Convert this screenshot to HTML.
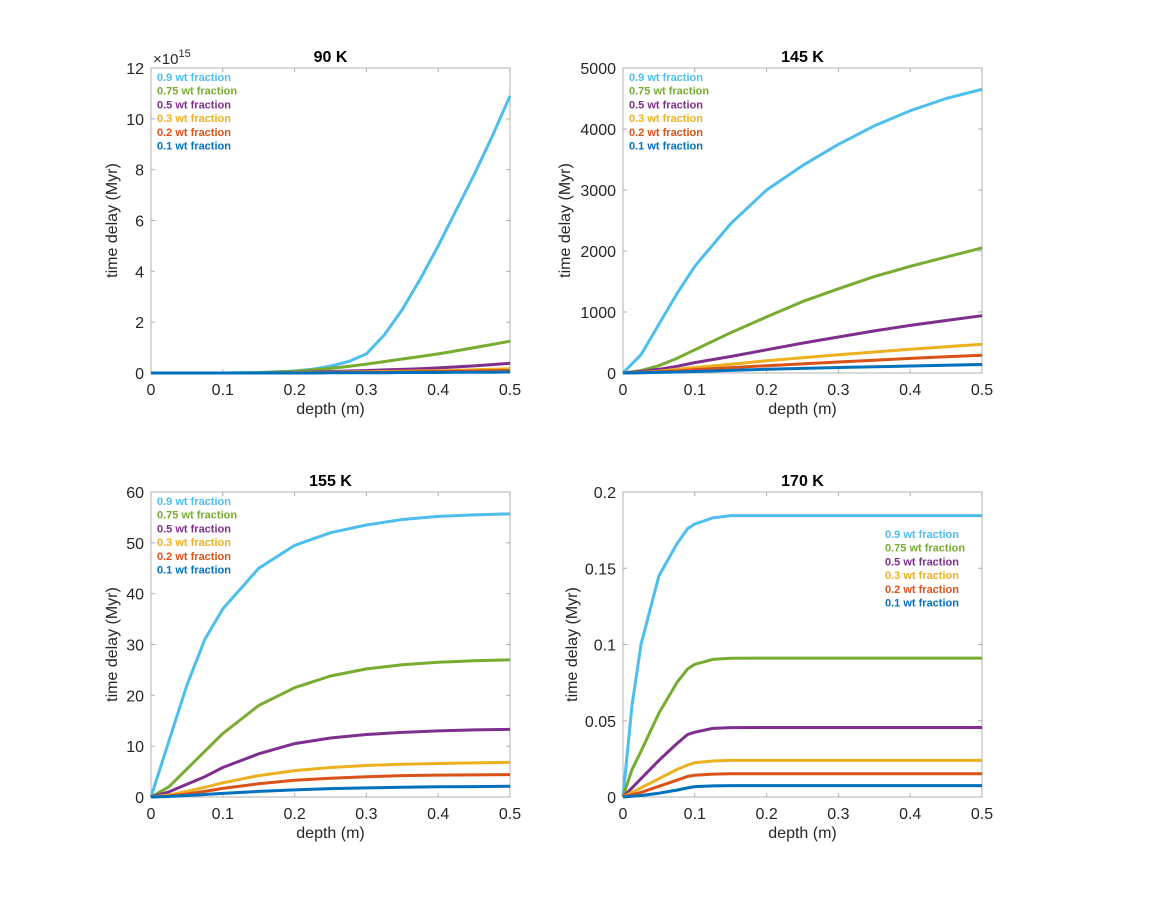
<!DOCTYPE html>
<html><head><meta charset="utf-8"><style>
body{margin:0;background:#fff;}
svg text{font-family:"Liberation Sans",Arial,sans-serif;}
</style></head><body>
<svg id="fig" width="1153" height="898" viewBox="0 0 1153 898" xmlns="http://www.w3.org/2000/svg"></svg>
<script>
const seriesLabels = ["0.9 wt fraction","0.75 wt fraction","0.5 wt fraction","0.3 wt fraction","0.2 wt fraction","0.1 wt fraction"];
const seriesColors = ["#4DBEEE","#77AC30","#7E2F8E","#EDB120","#D95319","#0072BD"];
const xTicks = [0,0.1,0.2,0.3,0.4,0.5];

// 90 K (values in units of 1e15)
const x90 = [0,0.05,0.1,0.15,0.2,0.225,0.25,0.275,0.3,0.325,0.35,0.375,0.4,0.425,0.45,0.475,0.5];
const y90_09 = [0,0,0,0.02,0.08,0.15,0.27,0.45,0.75,1.5,2.5,3.7,5.0,6.4,7.8,9.3,10.9];
const y90_075 = [0,0,0,0.01,0.07,0.12,0.18,0.26,0.35,0.45,0.55,0.65,0.75,0.87,1.0,1.12,1.25];
const y90_05 = [0,0,0,0,0.02,0.04,0.06,0.08,0.1,0.12,0.14,0.17,0.2,0.24,0.28,0.33,0.38];
const y90_03 = [0,0,0,0,0.01,0.02,0.03,0.04,0.05,0.06,0.07,0.08,0.09,0.11,0.13,0.15,0.17];
const y90_02 = [0,0,0,0,0,0.01,0.02,0.02,0.03,0.03,0.04,0.05,0.06,0.07,0.08,0.09,0.1];
const y90_01 = [0,0,0,0,0,0,0.01,0.01,0.01,0.01,0.02,0.02,0.02,0.03,0.03,0.03,0.04];
const yTicks90 = [0,2,4,6,8,10,12];

// 145 K
const x145 = [0,0.025,0.05,0.075,0.1,0.15,0.2,0.25,0.3,0.35,0.4,0.45,0.5];
const y145_09 = [0,300,800,1300,1750,2450,3000,3400,3750,4050,4300,4500,4650];
const y145_075 = [0,40,120,240,380,660,920,1170,1380,1580,1750,1900,2050];
const y145_05 = [0,25,60,110,170,270,380,490,590,690,780,860,940];
const y145_03 = [0,10,30,60,90,145,200,250,300,345,390,430,470];
const y145_02 = [0,6,20,35,55,88,120,150,180,210,240,265,290];
const y145_01 = [0,3,10,17,25,42,60,75,90,102,115,128,140];
const yTicks145 = [0,1000,2000,3000,4000,5000];

// 155 K
const x155 = [0,0.025,0.05,0.075,0.1,0.15,0.2,0.25,0.3,0.35,0.4,0.45,0.5];
const y155_09 = [0,11,22,31,37,45,49.5,52,53.5,54.6,55.2,55.5,55.7];
const y155_075 = [0,2,5.5,9,12.5,18,21.5,23.8,25.2,26,26.5,26.8,27];
const y155_05 = [0,1,2.5,4,5.8,8.5,10.5,11.6,12.3,12.7,13,13.2,13.3];
const y155_03 = [0,0.4,1.1,1.9,2.8,4.2,5.2,5.8,6.2,6.45,6.6,6.7,6.8];
const y155_02 = [0,0.2,0.6,1.1,1.7,2.6,3.3,3.7,4.0,4.2,4.3,4.35,4.4];
const y155_01 = [0,0.1,0.3,0.5,0.7,1.1,1.4,1.65,1.8,1.9,2.0,2.05,2.1];
const yTicks155 = [0,10,20,30,40,50,60];

// 170 K
const x170 = [0,0.0125,0.025,0.05,0.075,0.09,0.1,0.125,0.15,0.2,0.3,0.4,0.5];
const y170_09 = [0,0.06,0.1,0.145,0.166,0.176,0.179,0.183,0.1845,0.1845,0.1845,0.1845,0.1845];
const y170_075 = [0,0.018,0.03,0.055,0.075,0.084,0.087,0.0902,0.091,0.0911,0.0911,0.0911,0.0911];
const y170_05 = [0,0.006,0.012,0.024,0.035,0.041,0.0425,0.045,0.0455,0.0456,0.0456,0.0456,0.0456];
const y170_03 = [0,0.003,0.006,0.012,0.018,0.021,0.0225,0.0236,0.024,0.024,0.024,0.024,0.024];
const y170_02 = [0,0.0015,0.003,0.007,0.011,0.0135,0.0143,0.015,0.0152,0.0152,0.0152,0.0152,0.0152];
const y170_01 = [0,0.0005,0.001,0.0025,0.0045,0.006,0.0068,0.0073,0.0075,0.0075,0.0075,0.0075,0.0075];
const yTicks170 = [0,0.05,0.1,0.15,0.2];

const NS="http://www.w3.org/2000/svg";
const svg=document.getElementById('fig');
function mk(tag,attrs,parent){const e=document.createElementNS(NS,tag);for(const k in attrs)e.setAttribute(k,attrs[k]);(parent||svg).appendChild(e);return e;}

function panel(o){
  const g=mk('g',{});
  
  
  const L=o.left,R=o.left+359,T=o.top,B=o.top+305;
  const xs=v=>L+(v-0)/(0.5)*(R-L);
  const ys=v=>B-(v-o.ymin)/(o.ymax-o.ymin)*(B-T);
  const box=mk('rect',{x:L,y:T,width:R-L,height:B-T,fill:'#fff',stroke:'#b0b0b0','stroke-width':1},g);
  
  
  xTicks.forEach(t=>{
    const x=xs(t);
    mk('line',{x1:x,y1:B,x2:x,y2:B-4,stroke:'#b0b0b0'},g);
    mk('line',{x1:x,y1:T,x2:x,y2:T+4,stroke:'#b0b0b0'},g);
    const tx=mk('text',{x:x,y:B+22,'text-anchor':'middle','font-size':16,fill:'#262626'},g);
    tx.textContent=String(t);
    
    
  });
  o.yticks.forEach(t=>{
    const y=ys(t);
    mk('line',{x1:L,y1:y,x2:L+4,y2:y,stroke:'#b0b0b0'},g);
    mk('line',{x1:R,y1:y,x2:R-4,y2:y,stroke:'#b0b0b0'},g);
    const ty=mk('text',{x:L-7,y:y+6,'text-anchor':'end','font-size':16,fill:'#262626'},g);
    ty.textContent=String(t);
    
    
  });
  o.series.forEach((s,i)=>{
    const pts=o.xs.map((x,j)=>xs(x).toFixed(1)+','+ys(s[j]).toFixed(1)).join(' ');
    const pl=mk('polyline',{points:pts,fill:'none',stroke:seriesColors[i],'stroke-width':3,'stroke-linejoin':'round'},g);
    
    
  });
  const ti=mk('text',{x:(L+R)/2,y:T-6,'text-anchor':'middle','font-size':16,'font-weight':'bold',fill:'#000'},g);
  ti.textContent=o.title;
  
  
  const xl=mk('text',{x:(L+R)/2,y:B+41,'text-anchor':'middle','font-size':16,fill:'#262626'},g);
  xl.textContent='depth (m)';
  
  
  const yl=mk('text',{x:0,y:0,'text-anchor':'middle','font-size':16,fill:'#262626',transform:`translate(${L-o.ylOff},${(T+B)/2}) rotate(-90)`},g);
  yl.textContent='time delay (Myr)';
  
  
  seriesLabels.forEach((lab,i)=>{
    const t=mk('text',{x:o.legX,y:o.legY+i*13.7,'font-size':11,'font-weight':'bold',fill:seriesColors[i]},g);
    t.textContent=lab;
    
    
  });
  if(o.exp){
    const e=mk('text',{x:L+2,y:T-4,'font-size':15,fill:'#262626'},g);
    e.innerHTML='×10<tspan dy="-7" font-size="11">15</tspan>';
    
    
  }
}
panel({name:'panel-90k',title:'90 K',left:151,top:68,ymin:0,ymax:12,yticks:yTicks90,xs:x90,series:[y90_09,y90_075,y90_05,y90_03,y90_02,y90_01],legX:157,legY:81,exp:true,ylOff:34});
panel({name:'panel-145k',title:'145 K',left:623,top:68,ymin:0,ymax:5000,yticks:yTicks145,xs:x145,series:[y145_09,y145_075,y145_05,y145_03,y145_02,y145_01],legX:629,legY:81,ylOff:53});
panel({name:'panel-155k',title:'155 K',left:151,top:492,ymin:0,ymax:60,yticks:yTicks155,xs:x155,series:[y155_09,y155_075,y155_05,y155_03,y155_02,y155_01],legX:157,legY:505,ylOff:34});
panel({name:'panel-170k',title:'170 K',left:623,top:492,ymin:0,ymax:0.2,yticks:yTicks170,xs:x170,series:[y170_09,y170_075,y170_05,y170_03,y170_02,y170_01],legX:885,legY:538,ylOff:46});
</script>
</body></html>
